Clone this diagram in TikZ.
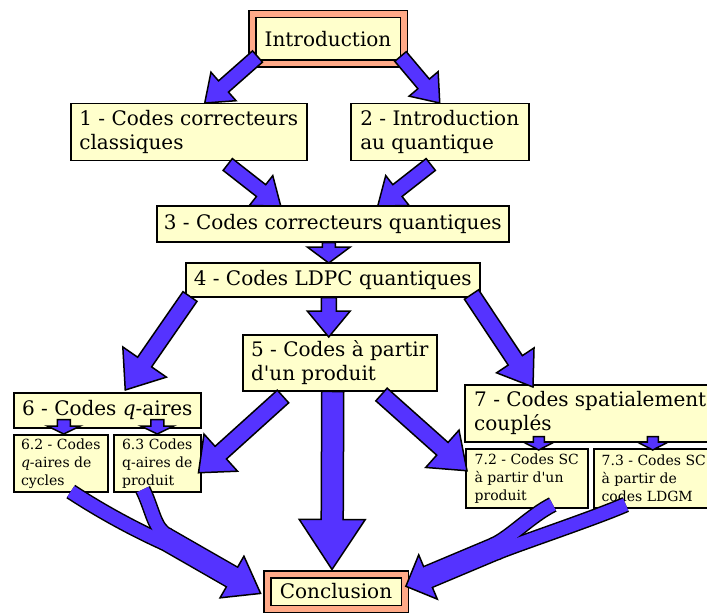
\documentclass[tikz,border=0pt]{standalone}
\usepackage{fontspec}
\setmainfont{DejaVu Serif}
\usetikzlibrary{calc}

\definecolor{arrowblue}{HTML}{5533FF}
\definecolor{boxyellow}{HTML}{FFFFCC}
\definecolor{framesalmon}{HTML}{FFAA88}

\newcommand{\bigfont}{\fontsize{20}{24}\selectfont}
\newcommand{\smallfont}{\fontsize{14}{18}\selectfont}

\tikzset{
  box/.style={draw, line width=1.5pt, fill=boxyellow, inner sep=0pt, align=left, anchor=north west, font=\bigfont},
  subbox/.style={box, font=\smallfont},
  endbox/.style={draw, line width=1.5pt, double=framesalmon, double distance=5.5pt, fill=boxyellow, inner sep=0pt, font=\bigfont},
  bigarrow/.style={fill=arrowblue, draw=black, line width=1.5pt, line join=miter},
}

% fat arrow: start, tip, half shaft, half head, head length
\newcommand{\fatarrow}[5]{%
  \path #1 coordinate (fa-s) #2 coordinate (fa-t);
  \path ($(fa-t)!#5!(fa-s)$) coordinate (fa-b);
  \filldraw[bigarrow] ($(fa-s)!#3!90:(fa-t)$) -- ($(fa-b)!#3!-90:(fa-s)$) -- ($(fa-b)!#4!-90:(fa-s)$) -- (fa-t)
    -- ($(fa-b)!#4!90:(fa-s)$) -- ($(fa-b)!#3!90:(fa-s)$) -- ($(fa-s)!#3!-90:(fa-t)$) -- cycle;
}

\begin{document}
\begin{tikzpicture}[x=1pt,y=-1pt]
\useasboundingbox (0,0) rectangle (707,615);

% boxes
\node[endbox, minimum width=151.5pt, minimum height=49.5pt] (intro) at (328,39) {Introduction};
\node[box, minimum width=236pt, minimum height=57pt] (box1) at (70,103) {1 - Codes correcteurs\\classiques};
\node[box, minimum width=178pt, minimum height=57pt] (box2) at (350,103) {2 - Introduction\\au quantique};
\node[box, minimum width=352pt, minimum height=36pt] (box3) at (156,205) {3 - Codes correcteurs quantiques};
\node[box, minimum width=294pt, minimum height=34pt] (box4) at (185,262) {4 - Codes LDPC quantiques};
\node[box, minimum width=194pt, minimum height=56pt] (box5) at (242,334) {5 - Codes à partir\\d\textquotesingle un produit};
\node[box, minimum width=187pt, minimum height=35pt] (box6) at (13,392) {6 - Codes \textit{q}-aires};
\node[subbox, minimum width=94pt, minimum height=57pt] (box62) at (13,434) {6.2 - Codes\\\textit{q}-aires de\\cycles};
\node[subbox, minimum width=87pt, minimum height=57pt] (box63) at (113,434) {6.3 Codes\\q-aires de\\produit};
\node[box, minimum width=251pt, minimum height=57pt] (box7) at (464,384) {7 - Codes spatialement\\couplés};
\node[subbox, minimum width=122pt, minimum height=59pt] (box72) at (465,448) {7.2 - Codes SC\\à partir d\textquotesingle un\\produit};
\node[subbox, minimum width=120pt, minimum height=59pt] (box73) at (593,448) {7.3 - Codes SC\\à partir de\\codes LDGM};
\node[endbox, minimum width=137.5pt, minimum height=34.5pt] (concl) at (336,591.5) {Conclusion};

% straight arrows
\fatarrow{([xshift=6pt,yshift=8pt]intro.south west)}{([xshift=16pt]box1.north)}{7.5pt}{19pt}{25pt}
\fatarrow{([xshift=-4pt,yshift=8pt]intro.south east)}{(box2.north)}{7.5pt}{19pt}{25pt}
\fatarrow{([xshift=39pt,yshift=-3pt]box1.south)}{([xshift=-52pt,yshift=-1pt]box3.north)}{7.5pt}{19pt}{25pt}
\fatarrow{([xshift=-9pt,yshift=-3pt]box2.south)}{([xshift=45pt,yshift=-1pt]box3.north)}{7.5pt}{19pt}{25pt}
\fatarrow{([xshift=-4pt]box3.south)}{([xshift=-4pt,yshift=-1pt]box4.north)}{6.5pt}{21.5pt}{16pt}
\fatarrow{([xshift=5pt,yshift=1pt]box4.south west)}{([xshift=18pt,yshift=2pt]box6.north)}{8.5pt}{26.5pt}{34pt}
\fatarrow{([xshift=-4pt]box4.south)}{([xshift=-11pt,yshift=-3pt]box5.north)}{7.5pt}{21.5pt}{26pt}
\fatarrow{([xshift=-9pt,yshift=3pt]box4.south east)}{([xshift=69pt,yshift=-3pt]box7.north west)}{8.5pt}{22.5pt}{32pt}
\fatarrow{([xshift=41pt,yshift=-5pt]box5.south west)}{([xshift=-3pt,yshift=-9.5pt]box63.east)}{8.5pt}{25pt}{30pt}
\fatarrow{([xshift=-7pt]box5.south)}{([xshift=-4pt,yshift=4pt]concl.north)}{11pt}{33pt}{50pt}
\fatarrow{([xshift=-56pt,yshift=-3pt]box5.south east)}{([xshift=2pt,yshift=7.5pt]box72.west)}{8.5pt}{25pt}{33pt}
\fatarrow{($(box62.north |- box6.south)+(3,-9)$)}{([xshift=3pt]box62.north)}{6.5pt}{16.5pt}{8pt}
\fatarrow{($(box63.north |- box6.south)+(0,-9)$)}{(box63.north)}{6.5pt}{16.5pt}{8pt}
\fatarrow{($(box72.north |- box7.south)+(12,-6)$)}{([xshift=12pt,yshift=-2pt]box72.north)}{5.5pt}{15.5pt}{8pt}
\fatarrow{($(box73.north |- box7.south)+(-1,-6)$)}{([xshift=-1pt,yshift=-2pt]box73.north)}{5.5pt}{15.5pt}{8pt}

% forked arrows into the conclusion
\coordinate (lm) at (164,538);
\coordinate (lb) at (232,577);
\coordinate (la) at (164.6,543);
\coordinate (lc) at (168.6,536);
\coordinate (rm) at (497,548);
\coordinate (rb) at (428,577);
\coordinate (ra) at (492.7,545.5);
\coordinate (rc) at (495.8,552.9);

\draw[line width=16pt] ([xshift=10pt,yshift=1pt]box62.south) .. controls (105,514) and (140,532) .. (la);
\draw[line width=16pt] ([xshift=-14.5pt,yshift=3pt]box63.south) .. controls (153,510) and (154,530) .. (lc);
\draw[line width=24pt] (lm) -- (lb);
\draw[line width=16pt] ([xshift=26pt,yshift=4pt]box72.south) .. controls (530,516) and (510,538) .. (ra);
\draw[line width=16pt] ([xshift=-28pt,yshift=4pt]box73.south) .. controls (595,518) and (514,545) .. (rc);
\draw[line width=24pt] (rm) -- (rb);

\filldraw[bigarrow] ($(lb)!24pt!90:(lm)$) -- ($(lb)!-33pt!(lm)$) -- ($(lb)!24pt!-90:(lm)$) -- cycle;
\filldraw[bigarrow] ($(rb)!24pt!90:(rm)$) -- ($(rb)!-24pt!(rm)$) -- ($(rb)!24pt!-90:(rm)$) -- cycle;

\draw[arrowblue, line width=13pt] ([xshift=10pt,yshift=1pt]box62.south) .. controls (105,514) and (140,532) .. (la);
\draw[arrowblue, line width=13pt] ([xshift=-14.5pt,yshift=3pt]box63.south) .. controls (153,510) and (154,530) .. (lc);
\draw[arrowblue, line width=21pt] (lm) -- ($(lb)!-3pt!(lm)$);
\draw[arrowblue, line width=13pt] ([xshift=26pt,yshift=4pt]box72.south) .. controls (530,516) and (510,538) .. (ra);
\draw[arrowblue, line width=13pt] ([xshift=-28pt,yshift=4pt]box73.south) .. controls (595,518) and (514,545) .. (rc);
\draw[arrowblue, line width=21pt] (rm) -- ($(rb)!-3pt!(rm)$);

\end{tikzpicture}
\end{document}
